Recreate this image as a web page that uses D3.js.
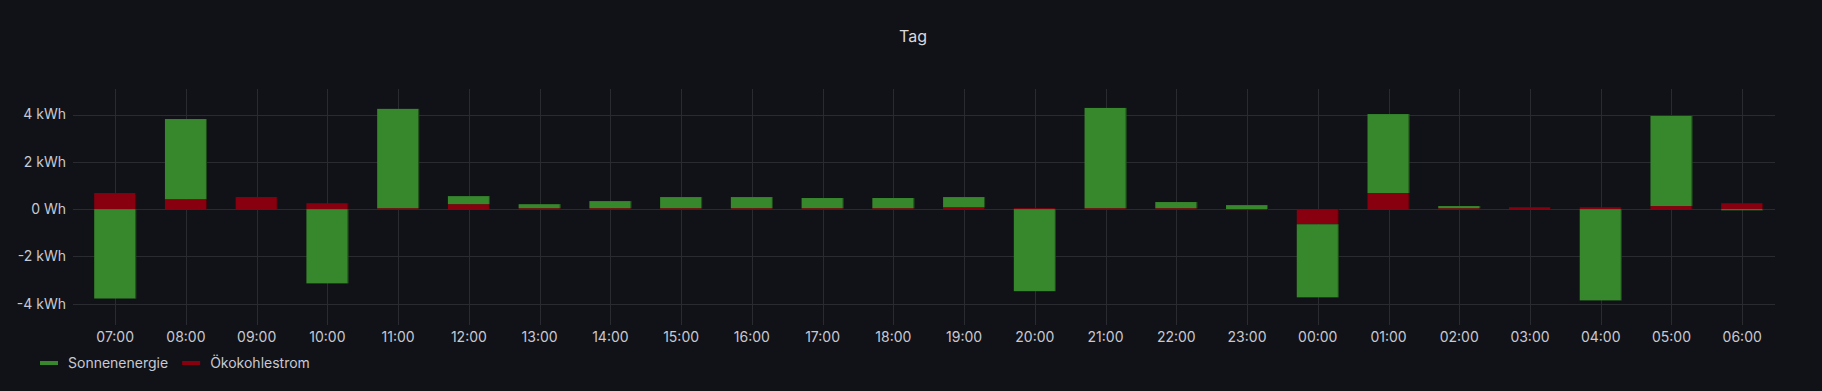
<!DOCTYPE html>
<html>
<head>
<meta charset="utf-8">
<script src="https://cdn.jsdelivr.net/npm/d3@7"></script>
<style>
  html, body { margin: 0; padding: 0; background: #111217; }
  svg { display: block; font-family: Inter, Roboto, "Noto Sans", sans-serif; }
</style>
</head>
<body>
<div id="chart"></div>
<script>
// data (kWh per hour)
const hours = ["07:00", "08:00", "09:00", "10:00", "11:00", "12:00", "13:00", "14:00",
  "15:00", "16:00", "17:00", "18:00", "19:00", "20:00", "21:00", "22:00", "23:00",
  "00:00", "01:00", "02:00", "03:00", "04:00", "05:00", "06:00"];
const sonnenenergie = [-3.78, 3.39, 0, -3.14, 4.2, 0.34, 0.17, 0.3, 0.47, 0.47, 0.43, 0.43,
  0.43, -3.47, 4.24, 0.26, 0.17, -3.09, 3.34, 0.09, 0, -3.86, 3.81, -0.05];
const oekokohlestrom = [0.68, 0.42, 0.51, 0.25, 0.04, 0.21, 0.04, 0.04, 0.04, 0.04, 0.04, 0.04,
  0.08, 0.04, 0.04, 0.04, -0.03, -0.64, 0.68, 0.04, 0.08, 0.08, 0.13, 0.25];
const yTicks = [-4, -2, 0, 2, 4];

const series = [
  { key: "oko", name: "Ökokohlestrom", color: "#88000f", values: oekokohlestrom },
  { key: "sonne", name: "Sonnenenergie", color: "#37872d", values: sonnenenergie },
];
const legendOrder = ["sonne", "oko"];

const width = 1822;
const height = 391;
const gridColor = "#2a2b31";
const textColor = "#c7c9d3";

const svg = d3
  .select("#chart")
  .append("svg")
  .attr("width", width)
  .attr("height", height);

svg.append("rect").attr("width", width).attr("height", height).attr("fill", "#111217");

// title
svg
  .append("text")
  .attr("x", 913)
  .attr("y", 42)
  .attr("text-anchor", "middle")
  .attr("fill", "#d8d9de")
  .attr("font-size", 16)
  .attr("font-weight", 400)
  .text("Tag");

const x = d3.scalePoint().domain(hours).range([115.2, 1742.2]);
const y = d3.scaleLinear().domain([-4.9, 5.08]).range([325, 89]);
const barWidth = 42;

// grid
svg
  .append("g")
  .selectAll("line")
  .data(yTicks)
  .enter()
  .append("line")
  .attr("x1", 73)
  .attr("x2", 1775)
  .attr("y1", (d) => Math.round(y(d)) + 0.5)
  .attr("y2", (d) => Math.round(y(d)) + 0.5)
  .attr("stroke", gridColor);

svg
  .append("g")
  .selectAll("line")
  .data(hours)
  .enter()
  .append("line")
  .attr("x1", (d) => Math.round(x(d)) + 0.5)
  .attr("x2", (d) => Math.round(x(d)) + 0.5)
  .attr("y1", 89)
  .attr("y2", 325)
  .attr("stroke", gridColor);

// y labels
svg
  .append("g")
  .selectAll("text")
  .data(yTicks)
  .enter()
  .append("text")
  .attr("x", 66)
  .attr("y", (d) => y(d))
  .attr("dy", "0.35em")
  .attr("text-anchor", "end")
  .attr("fill", textColor)
  .attr("font-size", 14)
  .text((d) => (d === 0 ? "0 Wh" : `${d} kWh`));

// x labels
svg
  .append("g")
  .selectAll("text")
  .data(hours)
  .enter()
  .append("text")
  .attr("x", (d) => x(d))
  .attr("y", 342)
  .attr("text-anchor", "middle")
  .attr("fill", textColor)
  .attr("font-size", 14)
  .text((d) => d);

// stacked bars, red closest to zero
const rows = hours.map((h, i) => {
  const row = { hour: h };
  series.forEach((s) => (row[s.key] = s.values[i]));
  return row;
});

const stacked = d3
  .stack()
  .keys(series.map((s) => s.key))
  .offset(d3.stackOffsetDiverging)(rows);

stacked.forEach((layer, li) => {
  const color = series[li].color;
  const g = svg.append("g");
  const bars = layer.filter((d) => d[1] !== d[0]);

  g.selectAll("rect.bar")
    .data(bars)
    .enter()
    .append("rect")
    .attr("class", "bar")
    .attr("x", (d) => x(d.data.hour) - barWidth / 2)
    .attr("width", barWidth)
    .attr("y", (d) => y(Math.max(d[0], d[1])))
    .attr("height", (d) => Math.max(1, Math.abs(y(d[0]) - y(d[1]))))
    .attr("fill", color);

  // darker edge on the right side
  g.selectAll("rect.edge")
    .data(bars)
    .enter()
    .append("rect")
    .attr("class", "edge")
    .attr("x", (d) => x(d.data.hour) + barWidth / 2 - 1)
    .attr("width", 1)
    .attr("y", (d) => y(Math.max(d[0], d[1])))
    .attr("height", (d) => Math.max(1, Math.abs(y(d[0]) - y(d[1]))))
    .attr("fill", "rgba(0,0,0,0.45)");
});

// legend
const legend = svg.append("g");
let lx = 40;
legendOrder.forEach((key) => {
  const s = series.find((d) => d.key === key);
  legend
    .append("rect")
    .attr("x", lx)
    .attr("y", 361)
    .attr("width", 18)
    .attr("height", 4)
    .attr("fill", s.color);
  const t = legend
    .append("text")
    .attr("x", lx + 28)
    .attr("y", 368)
    .attr("fill", textColor)
    .attr("font-size", 14)
    .text(s.name);
  lx += 28 + t.node().getComputedTextLength() + 14;
});
</script>
</body>
</html>
